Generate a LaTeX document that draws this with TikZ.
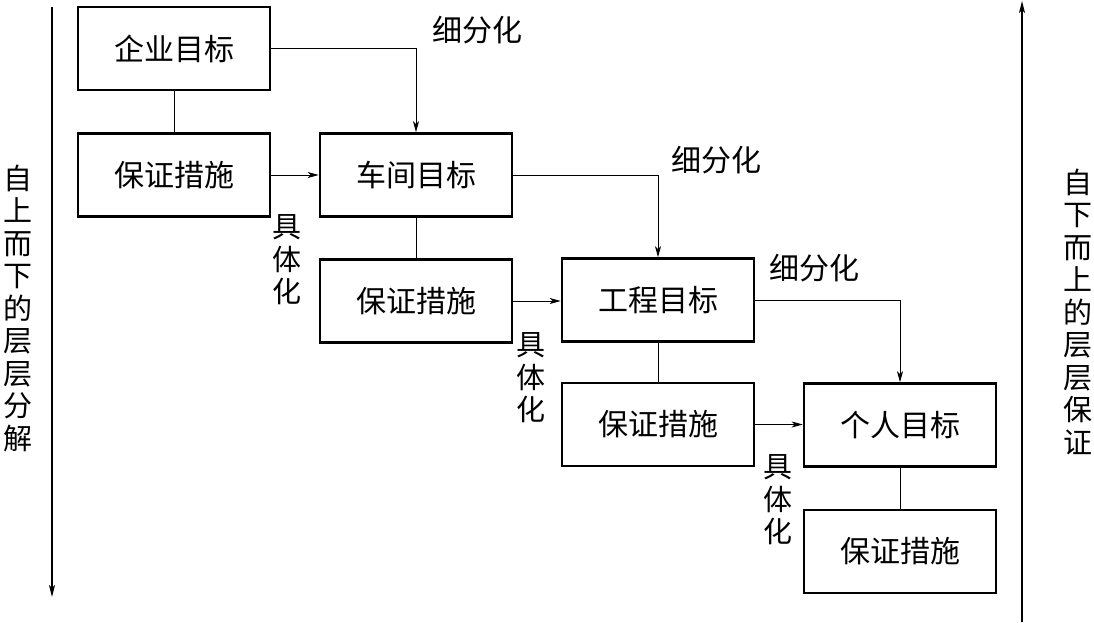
\documentclass[tikz,border=0pt]{standalone}
\usepackage{fontspec}
\newfontfamily\cjk{Noto Sans CJK SC}
\usetikzlibrary{arrows.meta}
\tikzset{
  goalbox/.style={draw, line width=2.6pt, minimum width=192pt, minimum height=83pt, inner sep=0pt,
    font=\cjk\fontsize{30}{33}\selectfont},
  lbl/.style={inner sep=0pt, font=\cjk\fontsize{30}{33}\selectfont},
  vlbl/.style={inner sep=0pt, align=center, font=\cjk\fontsize{29}{32.5}\selectfont},
  conn/.style={line width=0.9pt},
  arr/.style={line width=0.9pt, -{Stealth[length=11pt,width=6pt,inset=3pt]}},
  bigarr/.style={line width=1.4pt, -{Stealth[length=12pt,width=6pt,inset=3pt]}}
}
\begin{document}
\begin{tikzpicture}[x=1pt,y=-1pt]
\useasboundingbox (0,0) rectangle (1094,622);
\node[goalbox] (A)  at (174,48.5) {企业目标};
\node[goalbox] (A2) at (174,175) {保证措施};
\node[goalbox] (B)  at (416,175) {车间目标};
\node[goalbox] (B2) at (416,301) {保证措施};
\node[goalbox] (C)  at (658,300) {工程目标};
\node[goalbox] (C2) at (658,424.5) {保证措施};
\node[goalbox] (D)  at (900,425) {个人目标};
\node[goalbox] (D2) at (900,551.5) {保证措施};

\draw[conn] (A) -- (A2);
\draw[conn] (B) -- (B2);
\draw[conn] (C) -- (C2);
\draw[conn] (D) -- (D2);

\draw[arr] (A2) -- (B);
\draw[arr] (B2.east) -- (B2.east -| C.west);
\draw[arr] (C2.east) -- (C2.east -| D.west);

\draw[arr] (A.east) -| (B.north);
\draw[arr] (B.east) -| (C.north);
\draw[arr] (C.east) -| (D.north);

\node[lbl] (s1) at (477,30) {细分化};
\node[lbl] (s2) at (716,160) {细分化};
\node[lbl] (s3) at (814,268) {细分化};

\node[vlbl] (j1) at (287,260) {具\\体\\化};
\node[vlbl] (j2) at (531,378) {具\\体\\化};
\node[vlbl] (j3) at (778,500) {具\\体\\化};

\coordinate (L1) at (52,7);
\coordinate (L2) at (52,597);
\coordinate (R1) at (1022,622);
\coordinate (R2) at (1022,1);
\draw[bigarr] (L1) -- (L2);
\draw[bigarr] (R1) -- (R2);

\node[vlbl] (lt) at (18,308) {自\\上\\而\\下\\的\\层\\层\\分\\解};
\node[vlbl] (rt) at (1078,312) {自\\下\\而\\上\\的\\层\\层\\保\\证};
\end{tikzpicture}
\end{document}
